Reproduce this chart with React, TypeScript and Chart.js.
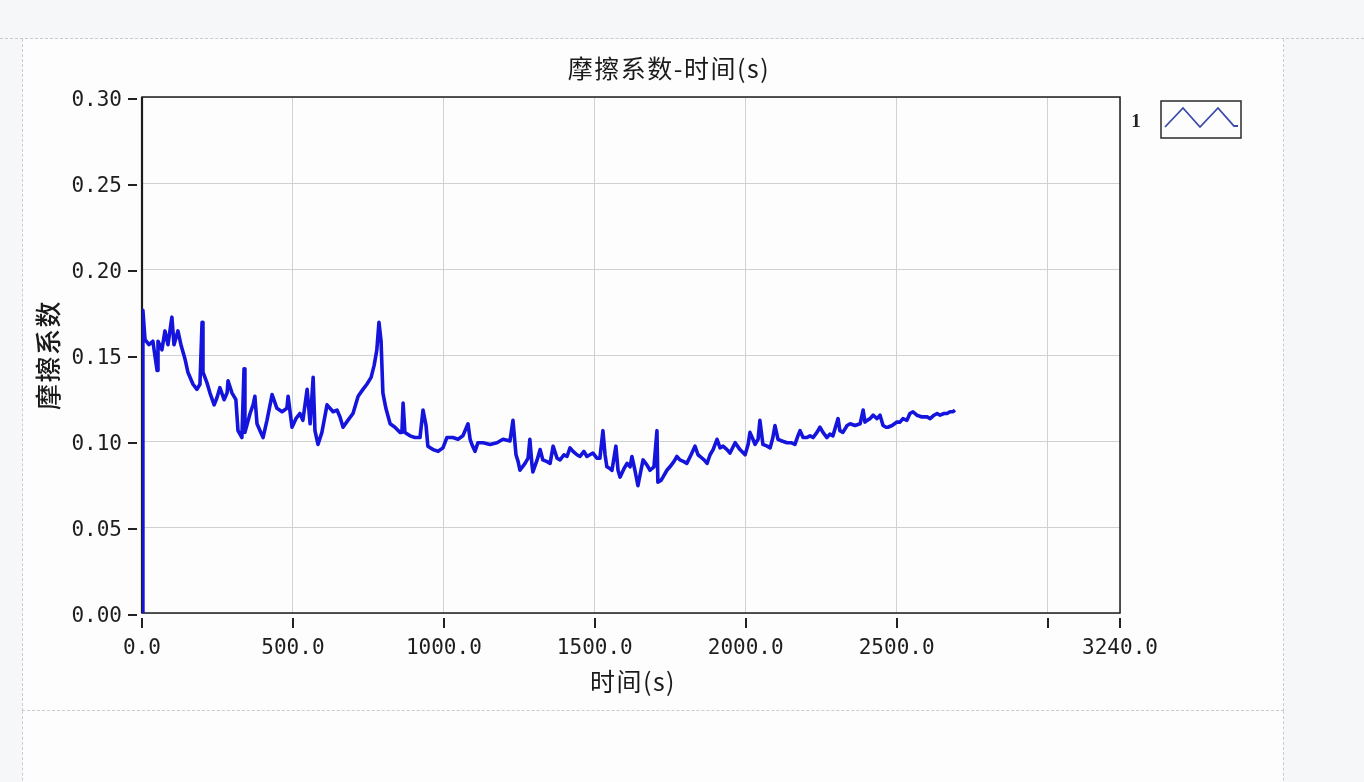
import React, { useEffect, useRef } from "react";
import { Chart, registerables } from "chart.js";

Chart.register(...registerables);

const chartTitle = "摩擦系数-时间(s)";
const xAxisTitle = "时间(s)";
const yAxisTitle = "摩擦系数";
const legendLabel = "1";

const xTickValues = [0, 500, 1000, 1500, 2000, 2500, 3000, 3240];
const xTickLabels = ["0.0", "500.0", "1000.0", "1500.0", "2000.0", "2500.0", "", "3240.0"];
const yTickValues = [0, 0.05, 0.1, 0.15, 0.2, 0.25, 0.3];
const yTickLabels = ["0.00", "0.05", "0.10", "0.15", "0.20", "0.25", "0.30"];

const times = [
  0, 3, 10, 23, 36, 50, 53, 66, 76, 86,
  99, 106, 119, 129, 142, 152, 169, 182, 192, 199,
  202, 215, 225, 239, 248, 258, 272, 282, 285, 298,
  311, 318, 331, 338, 341, 358, 368, 374, 381, 391,
  401, 414, 431, 447, 464, 480, 484, 497, 510, 523,
  533, 547, 557, 567, 573, 583, 596, 613, 633, 646,
  656, 666, 682, 699, 716, 732, 745, 759, 769, 778,
  785, 792, 798, 808, 822, 838, 855, 861, 865, 871,
  888, 904, 921, 931, 941, 947, 964, 981, 997, 1010,
  1030, 1047, 1063, 1080, 1087, 1093, 1103, 1113, 1130, 1153,
  1176, 1196, 1219, 1229, 1239, 1246, 1252, 1269, 1279, 1285,
  1292, 1295, 1309, 1319, 1328, 1342, 1352, 1362, 1375, 1385,
  1398, 1408, 1418, 1428, 1441, 1451, 1464, 1474, 1484, 1494,
  1507, 1517, 1527, 1534, 1540, 1550, 1557, 1570, 1577, 1584,
  1597, 1607, 1617, 1623, 1633, 1643, 1653, 1660, 1673, 1683,
  1696, 1706, 1709, 1719, 1726, 1739, 1749, 1762, 1772, 1782,
  1795, 1805, 1819, 1832, 1842, 1849, 1862, 1872, 1882, 1892,
  1905, 1915, 1925, 1938, 1948, 1965, 1981, 1998, 2008, 2014,
  2024, 2031, 2041, 2047, 2057, 2071, 2081, 2090, 2097, 2107,
  2120, 2137, 2150, 2163, 2173, 2180, 2190, 2203, 2213, 2223,
  2236, 2246, 2256, 2269, 2279, 2289, 2299, 2306, 2312, 2322,
  2336, 2346, 2362, 2379, 2389, 2395, 2402, 2412, 2422, 2435,
  2445, 2455, 2465, 2471, 2485, 2501, 2511, 2521, 2534, 2544,
  2554, 2567, 2584, 2601, 2611, 2624, 2634, 2644, 2657, 2667,
  2677, 2687, 2693,
];

const frictionValues = [
  0.000, 0.176, 0.159, 0.156, 0.158, 0.141, 0.158, 0.153, 0.164, 0.156,
  0.172, 0.156, 0.164, 0.156, 0.148, 0.140, 0.133, 0.130, 0.133, 0.169,
  0.140, 0.134, 0.128, 0.121, 0.125, 0.131, 0.124, 0.128, 0.135, 0.128,
  0.124, 0.106, 0.102, 0.142, 0.105, 0.116, 0.121, 0.126, 0.110, 0.106,
  0.102, 0.112, 0.127, 0.119, 0.117, 0.119, 0.126, 0.108, 0.113, 0.116,
  0.112, 0.130, 0.110, 0.137, 0.106, 0.098, 0.105, 0.121, 0.117, 0.118,
  0.114, 0.108, 0.112, 0.116, 0.126, 0.130, 0.133, 0.137, 0.144, 0.153,
  0.169, 0.158, 0.128, 0.119, 0.110, 0.108, 0.105, 0.105, 0.122, 0.105,
  0.103, 0.102, 0.102, 0.118, 0.109, 0.097, 0.095, 0.094, 0.096, 0.102,
  0.102, 0.101, 0.103, 0.110, 0.101, 0.098, 0.094, 0.099, 0.099, 0.098,
  0.099, 0.101, 0.100, 0.112, 0.092, 0.088, 0.083, 0.087, 0.090, 0.101,
  0.086, 0.082, 0.089, 0.095, 0.089, 0.088, 0.087, 0.097, 0.090, 0.089,
  0.092, 0.091, 0.096, 0.094, 0.092, 0.091, 0.094, 0.091, 0.092, 0.093,
  0.090, 0.090, 0.106, 0.092, 0.085, 0.084, 0.083, 0.097, 0.083, 0.079,
  0.084, 0.087, 0.085, 0.091, 0.083, 0.074, 0.083, 0.089, 0.086, 0.083,
  0.085, 0.106, 0.076, 0.077, 0.079, 0.083, 0.085, 0.088, 0.091, 0.089,
  0.088, 0.087, 0.092, 0.097, 0.092, 0.091, 0.089, 0.087, 0.092, 0.095,
  0.101, 0.096, 0.097, 0.095, 0.093, 0.099, 0.095, 0.092, 0.098, 0.105,
  0.101, 0.098, 0.101, 0.112, 0.098, 0.097, 0.096, 0.102, 0.109, 0.101,
  0.100, 0.099, 0.099, 0.098, 0.103, 0.106, 0.102, 0.102, 0.103, 0.102,
  0.105, 0.108, 0.105, 0.102, 0.104, 0.103, 0.109, 0.113, 0.106, 0.105,
  0.109, 0.110, 0.109, 0.110, 0.118, 0.111, 0.112, 0.113, 0.115, 0.113,
  0.115, 0.109, 0.108, 0.108, 0.109, 0.111, 0.111, 0.113, 0.112, 0.116,
  0.117, 0.115, 0.114, 0.114, 0.113, 0.115, 0.116, 0.115, 0.116, 0.116,
  0.117, 0.117, 0.118,
];

const W = 1364;
const H = 782;
const CJK = '"Noto Sans CJK SC", "Noto Sans", sans-serif';
const MONO = '"DejaVu Sans Mono", "Liberation Mono", monospace';

const overlayPlugin = {
  id: "overlay",
  beforeDatasetsDraw(chart: any) {
    const { ctx, chartArea: a, scales } = chart;
    ctx.save();
    ctx.strokeStyle = "#1c1c1c";
    ctx.lineWidth = 1.5;
    ctx.strokeRect(a.left, a.top, a.right - a.left, a.bottom - a.top);
    ctx.lineWidth = 2.2;
    ctx.beginPath();
    ctx.moveTo(a.left, a.top);
    ctx.lineTo(a.left, a.bottom);
    ctx.stroke();
    ctx.lineWidth = 2;
    ctx.strokeStyle = "#222";
    for (const v of xTickValues) {
      const px = Math.round(scales.x.getPixelForValue(v));
      ctx.beginPath();
      ctx.moveTo(px, a.bottom + 5);
      ctx.lineTo(px, a.bottom + 15);
      ctx.stroke();
    }
    for (const v of yTickValues) {
      const py = Math.round(scales.y.getPixelForValue(v)) + 2;
      ctx.beginPath();
      ctx.moveTo(a.left - 14, py);
      ctx.lineTo(a.left - 5, py);
      ctx.stroke();
    }
    ctx.restore();
  },
  afterDraw(chart: any) {
    const { ctx, chartArea: a } = chart;
    ctx.save();
    ctx.fillStyle = "#1a1a1a";
    ctx.textAlign = "center";
    ctx.textBaseline = "middle";
    ctx.font = `25px ${CJK}`;
    (ctx as any).letterSpacing = "1.5px";
    ctx.fillText(chartTitle, (a.left + a.right) / 2 + 38, a.top - 29);
    ctx.font = `25px ${CJK}`;
    ctx.fillText(xAxisTitle, (a.left + a.right) / 2 + 2, a.bottom + 68);
    ctx.save();
    ctx.translate(a.left - 94, (a.top + a.bottom) / 2);
    ctx.rotate(-Math.PI / 2);
    ctx.font = `500 26px ${CJK}`;
    ctx.fillText(yAxisTitle, 0, 0);
    ctx.restore();
    (ctx as any).letterSpacing = "0px";
    ctx.font = `bold 19px "Liberation Serif", "DejaVu Serif", serif`;
    ctx.fillStyle = "#222";
    ctx.fillText(legendLabel, a.right + 16, a.top + 25);
    const bx = a.right + 41;
    const by = a.top + 4;
    ctx.strokeStyle = "#2a2a2a";
    ctx.lineWidth = 1.5;
    ctx.strokeRect(bx, by, 80, 37);
    ctx.strokeStyle = "#3a4aa8";
    ctx.lineWidth = 1.8;
    ctx.beginPath();
    ctx.moveTo(bx + 4, by + 26);
    ctx.lineTo(bx + 22, by + 7);
    ctx.lineTo(bx + 39, by + 26);
    ctx.lineTo(bx + 57, by + 7);
    ctx.lineTo(bx + 73, by + 25);
    ctx.lineTo(bx + 77, by + 25);
    ctx.stroke();
    ctx.restore();
  },
};

export default function App() {
  const canvasRef = useRef<HTMLCanvasElement | null>(null);

  useEffect(() => {
    const canvas = canvasRef.current;
    if (!canvas) return;
    const points = times.map((t, i) => ({ x: t, y: frictionValues[i] }));
    const chart = new Chart(canvas, {
      type: "line",
      data: {
        datasets: [
          {
            label: legendLabel,
            data: points,
            borderColor: "#1414dc",
            borderWidth: 3.6,
            pointRadius: 0,
            tension: 0,
            borderJoinStyle: "round",
            fill: false,
          },
        ],
      },
      options: {
        animation: false,
        responsive: false,
        devicePixelRatio: 1,
        layout: { padding: { left: 0, right: W - 1120, top: 97, bottom: 0 } },
        plugins: {
          legend: { display: false },
          title: { display: false },
          tooltip: { enabled: false },
        },
        scales: {
          x: {
            type: "linear",
            min: 0,
            max: 3240,
            afterFit: (s: any) => {
              s.height = H - 613;
            },
            afterBuildTicks: (s: any) => {
              s.ticks = xTickValues.map((v) => ({ value: v }));
            },
            ticks: {
              autoSkip: false,
              maxRotation: 0,
              padding: 8,
              color: "#1e1e1e",
              font: { family: MONO, size: 21 },
              callback: (value: any) => {
                const i = xTickValues.indexOf(Number(value));
                return i >= 0 ? xTickLabels[i] : "";
              },
            },
            grid: {
              color: "#cfd1d4",
              lineWidth: 1,
              drawTicks: true,
              tickLength: 15,
              tickColor: "rgba(0,0,0,0)",
            },
            border: { display: false },
          },
          y: {
            type: "linear",
            min: 0,
            max: 0.3,
            afterFit: (s: any) => {
              s.width = 142;
            },
            afterBuildTicks: (s: any) => {
              s.ticks = yTickValues.map((v) => ({ value: v }));
            },
            ticks: {
              autoSkip: false,
              padding: 6,
              labelOffset: 4,
              color: "#1e1e1e",
              font: { family: MONO, size: 21 },
              callback: (value: any) => {
                const i = yTickValues.findIndex((v) => Math.abs(v - Number(value)) < 1e-9);
                return i >= 0 ? yTickLabels[i] : "";
              },
            },
            grid: {
              color: "#cfd1d4",
              lineWidth: 1,
              drawTicks: true,
              tickLength: 14,
              tickColor: "rgba(0,0,0,0)",
            },
            border: { display: false },
          },
        },
      },
      plugins: [overlayPlugin],
    });
    return () => chart.destroy();
  }, []);

  const dash = "1px dashed #c9cbcf";
  return (
    <div
      style={{
        position: "fixed",
        left: 0,
        top: 0,
        width: W,
        height: H,
        background: "#f6f7f9",
        overflow: "hidden",
      }}
    >
      <div style={{ position: "absolute", left: 0, top: 38, width: W, borderTop: dash }} />
      <div
        style={{
          position: "absolute",
          left: 22,
          top: 39,
          width: 1262,
          height: 672,
          background: "#fdfdfe",
          borderLeft: dash,
          borderRight: dash,
          borderBottom: dash,
          boxSizing: "border-box",
        }}
      />
      <div
        style={{
          position: "absolute",
          left: 22,
          top: 711,
          width: 1262,
          height: 80,
          background: "#fdfdfe",
          borderLeft: dash,
          borderRight: dash,
          boxSizing: "border-box",
        }}
      />
      <canvas
        ref={canvasRef}
        width={W}
        height={H}
        style={{ position: "absolute", left: 0, top: 0, width: W, height: H }}
      />
    </div>
  );
}
